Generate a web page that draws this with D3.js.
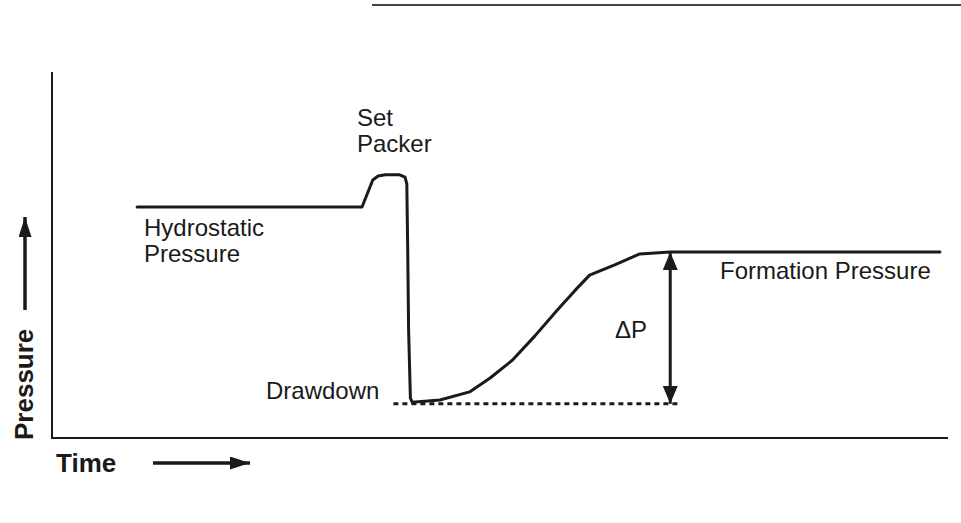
<!DOCTYPE html>
<html>
<head>
<meta charset="utf-8">
<script src="https://cdn.jsdelivr.net/npm/d3@7"></script>
<style>
  html, body { margin: 0; padding: 0; background: #fff; }
  svg { display: block; }
  text { font-family: "Liberation Sans", Arial, Helvetica, sans-serif; fill: #1a1a1a; }
</style>
</head>
<body>
<svg id="chart" width="961" height="523"></svg>
<script>
// ---- Data (time vs pressure, arbitrary units 0-100) ----
const timeValues = [9.5, 34.6, 35.8, 36.4, 37.2, 38.8, 39.4, 39.6, 39.7, 39.8, 40.0, 40.2, 43.3, 46.6, 48.9, 51.4, 53.9, 56.4, 58.4, 60.0, 62.8, 65.6, 69.0, 99.1];
const pressureValues = [63.1, 63.1, 70.5, 71.6, 71.9, 71.9, 71.3, 69.4, 51.4, 29.5, 10.9, 9.8, 10.4, 12.6, 16.4, 21.3, 27.9, 35.0, 40.4, 44.5, 47.3, 50.3, 50.8, 50.8];
const drawdownLevel = [9.6];
const drawdownSpan = [38.1, 69.9];
const formationLevel = [50.8];
const deltaPTime = [69.0];
const labels = ["Set", "Packer", "Hydrostatic", "Pressure", "Formation Pressure", "ΔP", "Drawdown"];
const axisTitles = ["Time", "Pressure"];

const svg = d3.select("#chart");
const x = d3.scaleLinear().domain([0, 100]).range([52, 948]);
const y = d3.scaleLinear().domain([0, 100]).range([438, 72]);
const ink = "#1a1a1a";

// scan artifact line at top
svg.append("line").attr("x1", 372).attr("x2", 961).attr("y1", 5).attr("y2", 5)
  .attr("stroke", "#444").attr("stroke-width", 2);

// markers
const defs = svg.append("defs");
function marker(id, w, h) {
  defs.append("marker").attr("id", id)
    .attr("viewBox", `0 0 ${h} ${w}`)
    .attr("refX", h).attr("refY", w / 2)
    .attr("markerWidth", h).attr("markerHeight", w)
    .attr("markerUnits", "userSpaceOnUse")
    .attr("orient", "auto-start-reverse")
    .append("path").attr("d", `M0,0 L${h},${w/2} L0,${w} Z`).attr("fill", ink);
}
marker("headBig", 15, 18);
marker("headAxis", 13, 20);

// axes (plain frame lines, no ticks)
svg.append("line").attr("x1", x(0)).attr("x2", x(0)).attr("y1", y(100)).attr("y2", y(0))
  .attr("stroke", ink).attr("stroke-width", 2);
svg.append("line").attr("x1", x(0) - 1).attr("x2", x(100)).attr("y1", y(0)).attr("y2", y(0))
  .attr("stroke", ink).attr("stroke-width", 2);

// curve
const pts = timeValues.map((t, i) => [t, pressureValues[i]]);
const line = d3.line().x(d => x(d[0])).y(d => y(d[1])).curve(d3.curveLinear);
svg.append("path").datum(pts).attr("d", line)
  .attr("fill", "none").attr("stroke", ink).attr("stroke-width", 3)
  .attr("stroke-linejoin", "round").attr("stroke-linecap", "round");

// drawdown dotted line
svg.append("line")
  .attr("x1", x(drawdownSpan[0])).attr("x2", x(drawdownSpan[1]))
  .attr("y1", y(drawdownLevel[0]) + 1).attr("y2", y(drawdownLevel[0]) + 1)
  .attr("stroke", ink).attr("stroke-width", 3).attr("stroke-dasharray", "5,4");

// delta P double arrow
svg.append("line")
  .attr("x1", x(deltaPTime[0])).attr("x2", x(deltaPTime[0]))
  .attr("y1", y(formationLevel[0])).attr("y2", y(drawdownLevel[0]) + 1)
  .attr("stroke", ink).attr("stroke-width", 3)
  .attr("marker-start", "url(#headBig)").attr("marker-end", "url(#headBig)");

// labels
const fs = 24;
function label(txt, px, py, opts = {}) {
  return svg.append("text").attr("x", px).attr("y", py).text(txt)
    .attr("font-size", opts.size || fs).attr("font-weight", opts.weight || "normal");
}
label(labels[0], 357, 126);
label(labels[1], 357, 152);
label(labels[2], 144, 236);
label(labels[3], 144, 262);
label(labels[4], 720, 279);
label(labels[5], 615, 338);
label(labels[6], 266, 399);

// axis titles
label(axisTitles[0], 56, 472, { size: 26, weight: "bold" });
svg.append("text").attr("transform", "translate(33,440) rotate(-90)")
  .text(axisTitles[1]).attr("font-size", 26).attr("font-weight", "bold");

// axis-direction arrows
svg.append("line").attr("x1", 153).attr("x2", 250).attr("y1", 463).attr("y2", 463)
  .attr("stroke", ink).attr("stroke-width", 3.5).attr("marker-end", "url(#headAxis)");
svg.append("line").attr("x1", 25).attr("x2", 25).attr("y1", 310).attr("y2", 217)
  .attr("stroke", ink).attr("stroke-width", 3.5).attr("marker-end", "url(#headAxis)");
</script>
</body>
</html>
